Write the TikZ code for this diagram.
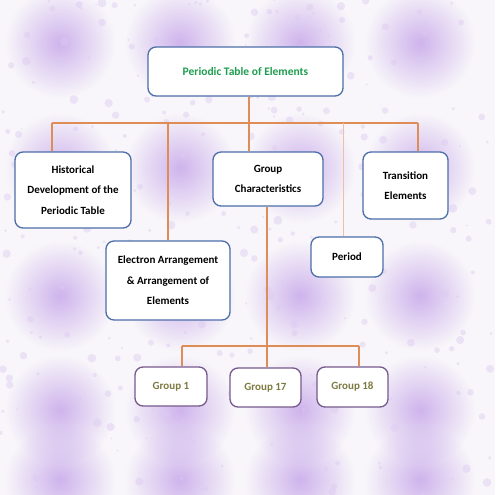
\documentclass[tikz,border=0pt]{standalone}
\usepackage{fontspec}
\setmainfont{Carlito}
\usetikzlibrary{fadings}
\definecolor{bgcol}{HTML}{F8F6FA}
\definecolor{blobcol}{HTML}{C19EE8}
\definecolor{boxblue}{HTML}{4D6EA8}
\definecolor{boxpurple}{HTML}{76598C}
\definecolor{linkcol}{HTML}{DF8D57}
\definecolor{titlegreen}{HTML}{1F9E4F}
\definecolor{olive}{HTML}{7D7A42}
\tikzfading[name=blobfade,inner color=transparent!25,outer color=transparent!100]
\begin{document}
\begin{tikzpicture}[x=1pt,y=-1pt,
    box/.style={draw=boxblue,line width=1.3pt,fill=white,rounded corners=8pt,align=center,
        font=\bfseries\fontsize{11}{20.5}\selectfont,inner sep=2pt},
    gbox/.style={box,draw=boxpurple,text=olive},
    link/.style={linkcol,line width=1.8pt},
    thinlink/.style={linkcol!55,line width=0.6pt}]
    \useasboundingbox (0,0) rectangle (495,495);
    \fill[bgcol] (0,0) rectangle (495,495);
    \foreach \bx in {60,180,300,420}
        \foreach \by in {43,168,296,410,480}
            \fill[blobcol,path fading=blobfade] (\bx,\by) circle (55);
    \pgfmathsetseed{11}
    \foreach \i in {1,...,300}{
        \pgfmathsetmacro{\dx}{495*rnd}\pgfmathsetmacro{\dy}{495*rnd}\pgfmathsetmacro{\dr}{1+3.5*rnd}
        \fill[blobcol!55,opacity=0.45] (\dx,\dy) circle (\dr);
    }
    % boxes
    \node[box,text=titlegreen,font=\bfseries\fontsize{11.5}{14}\selectfont,minimum width=195pt,minimum height=49pt] (top) at (245.5,71.5) {Periodic Table of Elements};
    \node[box,minimum width=116pt,minimum height=76pt] (hist) at (73,190) {Historical\\Development of the\\Periodic Table};
    \node[box,minimum width=124pt,minimum height=79pt] (elec) at (168,280.5) {Electron Arrangement\\\& Arrangement of\\Elements};
    \node[box,minimum width=110pt,minimum height=54pt] (grp) at (268,179) {Group\\Characteristics};
    \node[box,minimum width=85pt,minimum height=67pt] (trans) at (405.5,185.5) {Transition\\Elements};
    \node[box,minimum width=72pt,minimum height=40pt] (period) at (347,257) {Period};
    \node[gbox,minimum width=72pt,minimum height=39pt] (g1) at (171,386.5) {Group 1};
    \node[gbox,minimum width=71pt,minimum height=39pt] (g17) at (265.5,387.5) {Group 17};
    \node[gbox,minimum width=71pt,minimum height=40pt] (g18) at (352.5,387) {Group 18};
    % links
    \coordinate (b1) at (52,123); \coordinate (b2) at (168,123); \coordinate (b3) at (249,123);
    \coordinate (b4) at (343,123); \coordinate (b5) at (418,123);
    \coordinate (s1) at (182,346); \coordinate (s2) at (267,346); \coordinate (s3) at (359,346);
    \draw[link] (b3 |- top.south) -- (b3);
    \draw[link] (b1) -- (b5);
    \draw[link] (b1) -- (b1 |- hist.north);
    \draw[link] (b2) -- (b2 |- elec.north);
    \draw[link] (b3) -- (b3 |- grp.north);
    \draw[link] (b5) -- (b5 |- trans.north);
    \draw[thinlink] (b4) -- (b4 |- period.north);
    \draw[link] (s2 |- grp.south) -- (s2);
    \draw[link] (s1) -- (s3);
    \draw[link] (s1) -- (s1 |- g1.north);
    \draw[link] (s2) -- (s2 |- g17.north);
    \draw[link] (s3) -- (s3 |- g18.north);
\end{tikzpicture}
\end{document}
